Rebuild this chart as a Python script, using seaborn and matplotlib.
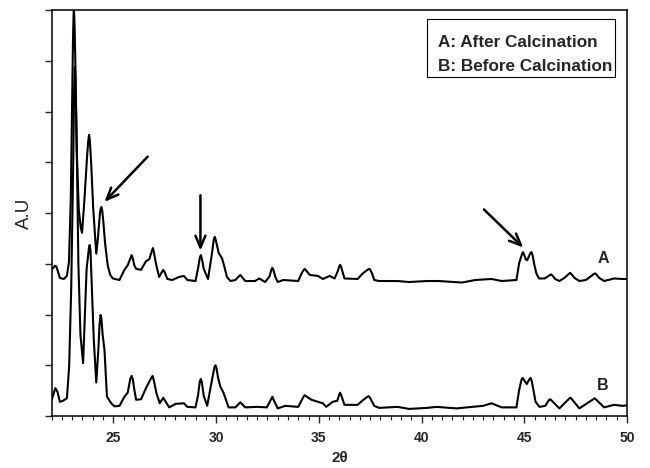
import matplotlib
matplotlib.use("Agg")
import matplotlib.pyplot as plt
from matplotlib.ticker import MultipleLocator, FixedLocator
from matplotlib.patches import Rectangle
import pandas as pd
import seaborn as sns

# XRD pattern after calcination (trace A, offset upward): (2theta, intensity)
pattern_a = [
    (22.00, 2.88), (22.10, 2.93), (22.16, 2.96), (22.22, 2.95), (22.28, 2.88), (22.40, 2.72),
    (22.59, 2.70), (22.74, 2.76), (22.84, 3.03), (22.93, 4.26), (23.00, 6.23), (23.04, 7.50),
    (23.08, 8.10), (23.12, 7.60), (23.16, 6.80), (23.22, 5.24), (23.32, 4.06), (23.42, 3.70),
    (23.48, 3.61), (23.60, 4.30), (23.72, 5.10), (23.78, 5.42), (23.82, 5.54), (23.86, 5.42),
    (23.92, 5.00), (24.02, 4.10), (24.12, 3.50), (24.17, 3.20), (24.25, 3.50), (24.35, 4.00),
    (24.38, 4.08), (24.42, 4.12), (24.46, 4.05), (24.52, 3.80), (24.60, 3.40), (24.66, 3.20),
    (24.73, 2.96), (24.85, 2.78), (24.98, 2.71), (25.30, 2.68), (25.54, 2.88), (25.70, 2.97),
    (25.82, 3.10), (25.89, 3.17), (25.95, 3.10), (26.03, 2.96), (26.11, 2.90), (26.35, 2.88),
    (26.59, 3.05), (26.75, 3.09), (26.88, 3.26), (26.93, 3.31), (26.98, 3.22), (27.07, 3.01),
    (27.23, 2.74), (27.38, 2.85), (27.43, 2.88), (27.49, 2.84), (27.63, 2.70), (27.87, 2.68),
    (28.20, 2.74), (28.44, 2.76), (28.60, 2.68), (29.00, 2.66), (29.12, 2.90), (29.21, 3.12),
    (29.26, 3.17), (29.31, 3.10), (29.40, 2.90), (29.61, 2.70), (29.80, 3.20), (29.89, 3.48),
    (29.94, 3.53), (29.99, 3.46), (30.13, 3.21), (30.29, 3.11), (30.40, 2.95), (30.53, 2.74),
    (30.70, 2.66), (30.94, 2.68), (31.18, 2.78), (31.42, 2.66), (31.90, 2.66), (32.10, 2.71),
    (32.39, 2.64), (32.60, 2.75), (32.70, 2.89), (32.74, 2.92), (32.79, 2.88), (32.88, 2.75),
    (33.00, 2.64), (33.27, 2.68), (34.00, 2.66), (34.15, 2.80), (34.27, 2.88), (34.32, 2.90),
    (34.38, 2.87), (34.56, 2.78), (34.96, 2.76), (35.20, 2.70), (35.53, 2.76), (35.77, 2.71),
    (35.92, 2.85), (36.00, 2.95), (36.04, 2.98), (36.09, 2.94), (36.15, 2.85), (36.25, 2.71),
    (36.89, 2.70), (37.14, 2.81), (37.30, 2.86), (37.40, 2.89), (37.46, 2.90), (37.52, 2.87),
    (37.60, 2.80), (37.70, 2.68), (37.94, 2.66), (38.43, 2.66), (38.83, 2.66), (39.39, 2.64),
    (40.28, 2.66), (40.84, 2.66), (41.97, 2.63), (42.61, 2.68), (43.41, 2.70), (43.90, 2.66),
    (44.62, 2.68), (44.75, 3.01), (44.89, 3.19), (44.94, 3.23), (44.99, 3.18), (45.07, 3.09),
    (45.14, 3.07), (45.22, 3.14), (45.30, 3.21), (45.35, 3.23), (45.41, 3.16), (45.48, 3.00),
    (45.59, 2.81), (45.72, 2.71), (45.99, 2.71), (46.26, 2.78), (46.31, 2.79), (46.37, 2.77),
    (46.50, 2.70), (46.71, 2.66), (46.95, 2.72), (47.17, 2.80), (47.23, 2.82), (47.29, 2.80),
    (47.45, 2.72), (47.68, 2.66), (48.00, 2.68), (48.20, 2.74), (48.39, 2.80), (48.45, 2.81),
    (48.51, 2.79), (48.65, 2.72), (48.89, 2.66), (49.37, 2.71), (49.78, 2.70), (50.00, 2.70),
]

# XRD pattern before calcination (trace B): (2theta, intensity)
pattern_b = [
    (22.00, 0.32), (22.10, 0.45), (22.18, 0.55), (22.28, 0.48), (22.40, 0.28), (22.55, 0.30),
    (22.74, 0.35), (22.85, 0.97), (22.95, 2.50), (23.05, 5.00), (23.09, 6.40), (23.13, 6.88),
    (23.17, 6.40), (23.22, 5.30), (23.30, 3.00), (23.40, 1.60), (23.53, 1.04), (23.60, 1.80),
    (23.70, 2.90), (23.81, 3.30), (23.85, 3.37), (23.89, 3.25), (23.95, 2.60), (24.05, 1.50),
    (24.17, 0.66), (24.27, 1.30), (24.33, 1.80), (24.38, 1.99), (24.42, 1.92), (24.48, 1.60),
    (24.57, 1.30), (24.69, 0.38), (24.90, 0.25), (25.06, 0.19), (25.30, 0.20), (25.54, 0.38),
    (25.70, 0.46), (25.83, 0.74), (25.89, 0.79), (25.95, 0.72), (26.03, 0.50), (26.11, 0.32),
    (26.35, 0.33), (26.59, 0.55), (26.86, 0.76), (26.91, 0.79), (26.96, 0.72), (27.10, 0.45),
    (27.26, 0.25), (27.43, 0.36), (27.72, 0.17), (28.04, 0.24), (28.44, 0.25), (28.60, 0.18),
    (29.00, 0.17), (29.12, 0.40), (29.21, 0.68), (29.26, 0.73), (29.31, 0.66), (29.40, 0.40),
    (29.57, 0.20), (29.75, 0.60), (29.92, 0.96), (29.97, 1.00), (30.02, 0.94), (30.10, 0.75),
    (30.21, 0.58), (30.37, 0.45), (30.61, 0.17), (30.94, 0.17), (31.18, 0.27), (31.42, 0.17),
    (31.99, 0.18), (32.47, 0.17), (32.70, 0.35), (32.74, 0.38), (32.79, 0.33), (33.00, 0.15),
    (33.37, 0.20), (34.00, 0.18), (34.27, 0.39), (34.32, 0.41), (34.38, 0.39), (34.64, 0.32),
    (35.20, 0.25), (35.36, 0.18), (35.68, 0.28), (35.90, 0.30), (36.00, 0.43), (36.04, 0.46),
    (36.09, 0.41), (36.25, 0.22), (36.89, 0.22), (37.14, 0.31), (37.37, 0.38), (37.43, 0.39),
    (37.49, 0.36), (37.70, 0.20), (37.94, 0.16), (38.43, 0.17), (38.83, 0.18), (39.39, 0.14),
    (40.28, 0.16), (40.73, 0.18), (41.70, 0.15), (42.99, 0.20), (43.41, 0.25), (43.90, 0.17),
    (44.62, 0.17), (44.75, 0.51), (44.87, 0.72), (44.92, 0.75), (44.97, 0.72), (45.12, 0.63),
    (45.26, 0.73), (45.31, 0.75), (45.37, 0.68), (45.55, 0.28), (45.74, 0.18), (46.02, 0.20),
    (46.21, 0.32), (46.26, 0.33), (46.32, 0.31), (46.71, 0.15), (47.18, 0.34), (47.24, 0.36),
    (47.30, 0.34), (47.68, 0.15), (48.36, 0.33), (48.42, 0.35), (48.48, 0.33), (48.89, 0.17),
    (49.37, 0.22), (49.78, 0.20), (50.00, 0.21),
]

trace_labels = ["A", "B"]
legend_lines = ["A: After Calcination", "B: Before Calcination"]
x_major_ticks = [25, 30, 35, 40, 45, 50]

frames = []
for name, pattern in zip(trace_labels, [pattern_a, pattern_b]):
    tt, inten = zip(*pattern)
    frames.append(pd.DataFrame({"two_theta": tt, "intensity": inten, "sample": name}))
df = pd.concat(frames, ignore_index=True)

sns.set_theme(style="ticks")
plt.rcParams["font.family"] = ["Liberation Sans", "DejaVu Sans"]

fig = plt.figure(figsize=(6.5, 4.68), dpi=100)
ax = fig.add_axes([0.0795, 0.1111, 0.8851, 0.8675])

sns.lineplot(data=df, x="two_theta", y="intensity", units="sample", estimator=None,
             sort=False, color="black", linewidth=1.5, ax=ax, legend=False)

ax.set_xlim(22, 50)
ax.set_ylim(0, 8)
ax.xaxis.set_major_locator(FixedLocator(x_major_ticks))
ax.xaxis.set_minor_locator(MultipleLocator(0.5))
ax.yaxis.set_major_locator(MultipleLocator(1))
ax.set_yticklabels([])
ax.tick_params(axis="x", which="major", direction="out", length=5, width=1,
               labelsize=10, pad=6)
ax.tick_params(axis="x", which="minor", direction="out", length=3, width=0.8)
ax.tick_params(axis="y", which="major", direction="out", length=5, width=1)
for lab in ax.get_xticklabels():
    lab.set_fontweight("bold")
for sp in ax.spines.values():
    sp.set_visible(True)
    sp.set_linewidth(1.1)
    sp.set_color("black")

ax.set_xlabel("2θ", fontsize=11, fontweight="bold", labelpad=4)
ax.set_ylabel("A.U", fontsize=13.5, labelpad=5)

# Trace letters at the right end of each pattern
ax.text(48.87, 3.11, trace_labels[0], fontsize=11.5, fontweight="bold",
        ha="center", va="center")
ax.text(48.83, 0.61, trace_labels[1], fontsize=11.5, fontweight="bold",
        ha="center", va="center")

# Key box in the upper right corner
ax.add_patch(Rectangle((0.652, 0.836), 0.327, 0.142, transform=ax.transAxes,
                       fill=False, edgecolor="black", linewidth=0.8))
ax.text(0.672, 0.919, legend_lines[0], transform=ax.transAxes, fontsize=12.3,
        fontweight="bold", ha="left", va="center")
ax.text(0.672, 0.862, legend_lines[1], transform=ax.transAxes, fontsize=12.3,
        fontweight="bold", ha="left", va="center")

# Arrows marking the new reflections
arrow_style = dict(arrowstyle="->,head_length=0.7,head_width=0.3", lw=1.8,
                   color="black", shrinkA=0, shrinkB=0)
ax.annotate("", xy=(24.57, 4.22), xytext=(26.67, 5.11), arrowprops=arrow_style)
ax.annotate("", xy=(29.24, 3.26), xytext=(29.24, 4.35), arrowprops=arrow_style)
ax.annotate("", xy=(44.95, 3.32), xytext=(43.04, 4.07), arrowprops=arrow_style)

fig.savefig("out.png", dpi=100)
